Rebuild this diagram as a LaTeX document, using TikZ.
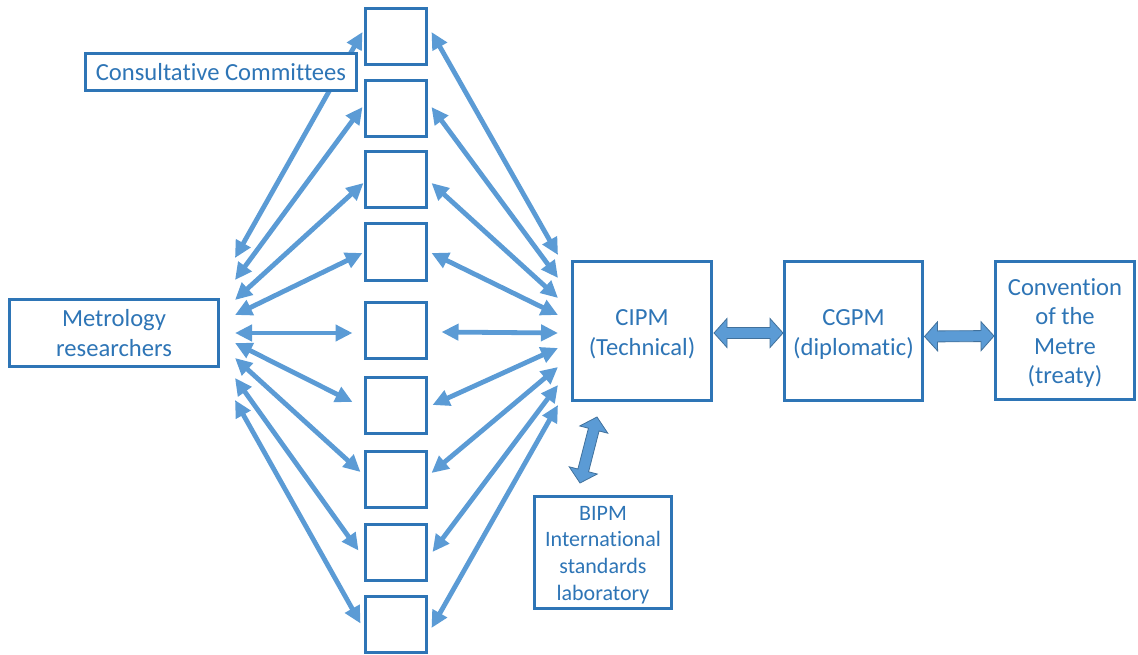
\documentclass[tikz,border=0pt]{standalone}
\usepackage{fontspec}
\setmainfont{Carlito}[Ligatures=NoCommon]
\usetikzlibrary{arrows.meta,calc}
\definecolor{boxblue}{RGB}{46,117,182}
\definecolor{arrblue}{RGB}{91,155,213}
\definecolor{arrline}{RGB}{65,113,156}
\newcommand\hl{13pt}
\newcommand\hw{14.5pt}
\newcommand\sw{5.5pt}
\newcommand\blockarr[2]{%
  \coordinate (ba1) at ($(#1)!\hl!(#2)$);
  \coordinate (ba2) at ($(#2)!\hl!(#1)$);
  \draw[blockarrow] (#1) -- ($(ba1)!\hw!90:(#2)$) -- ($(ba1)!\sw!90:(#2)$)
    -- ($(ba2)!\sw!-90:(#1)$) -- ($(ba2)!\hw!-90:(#1)$) -- (#2)
    -- ($(ba2)!\hw!90:(#1)$) -- ($(ba2)!\sw!90:(#1)$)
    -- ($(ba1)!\sw!-90:(#2)$) -- ($(ba1)!\hw!-90:(#2)$) -- cycle;}
\tikzset{
  box/.style={draw=boxblue, line width=3pt, fill=white, outer sep=0pt, inner sep=0pt,
    text=boxblue, align=center, font=\fontsize{24.6}{29.6}\selectfont},
  cbox/.style={box, minimum width=61pt, minimum height=56pt},
  link/.style={draw=arrblue, line width=4.8pt, {Triangle[length=17pt,width=16pt]}-{Triangle[length=17pt,width=16pt]}},
  blockarrow/.style={fill=arrblue, draw=arrline, line width=0.8pt, line join=miter}
}
\begin{document}
\begin{tikzpicture}[x=1pt,y=-1pt]
\useasboundingbox (0,0) rectangle (1138,655);
% committee boxes
\node[cbox] (b1) at (396,37) {};
\node[cbox] (b2) at (396,109) {};
\node[cbox] (b3) at (396,179.5) {};
\node[cbox] (b4) at (396,252) {};
\node[cbox] (b5) at (396,330) {};
\node[cbox] (b6) at (396,405.5) {};
\node[cbox] (b7) at (396,479) {};
\node[cbox] (b8) at (396,552.5) {};
\node[cbox] (b9) at (396,624.5) {};
% main boxes
\node[box, minimum width=209pt, minimum height=67pt] (res) at (114,333) {Metrology\\researchers};
\node[box, minimum width=139pt, minimum height=139pt] (cipm) at (642,331) {\rule{0pt}{23pt}CIPM\\(Technical)};
\node[box, minimum width=138pt, minimum height=139pt] (cgpm) at (853.5,331) {\rule{0pt}{23pt}CGPM\\(diplomatic)};
\node[box, minimum width=139pt, minimum height=138pt] (conv) at (1065,330.5) {\rule{0pt}{22pt}Convention\\of the\\Metre\\(treaty)};
\node[box, minimum width=137pt, minimum height=112pt, font=\fontsize{22}{26.8}\selectfont] (bipm) at (603,552.5) {\rule{0pt}{19pt}BIPM\\International\\standards\\laboratory};
% fan points near researchers
\foreach \i/\dy in {1/-75,2/-53,3/-33,4/-18,5/0,6/10,7/25,8/45,9/67}{
  \coordinate (L\i) at ($(res.east)+(16.5,\dy)$);
}
% fan points near CIPM
\foreach \i/\dy in {1/-76,2/-53,3/-33,4/-16,5/2,6/17,7/36,8/54,9/74}{
  \coordinate (R\i) at ($(cipm.west)+(-14.5,\dy)$);
}
% left fan
\draw[link] (L1) -- ($(b1.west)+(-3,-5)$);
\draw[link] (L2) -- ($(b2.west)+(-3,-2)$);
\draw[link] (L3) -- ($(b3.west)+(-2,3.5)$);
\draw[link] (L4) -- ($(b4.west)+(-3,1)$);
\draw[link] (L5) -- ($(b5.west)+(-13,3)$);
\draw[link] (L6) -- ($(b6.west)+(-13,-3.5)$);
\draw[link] (L7) -- ($(b7.west)+(-5,-7)$);
\draw[link] (L8) -- ($(b8.west)+(-7,-2)$);
\draw[link] (L9) -- ($(b9.west)+(-5,-1)$);
% right fan
\draw[link] ($(b1.east)+(5,-5)$) -- (R1);
\draw[link] ($(b2.east)+(5,-2)$) -- (R2);
\draw[link] ($(b3.east)+(5,3.5)$) -- (R3);
\draw[link] ($(b4.east)+(5,1)$) -- (R4);
\draw[link] ($(b5.east)+(15,2)$) -- (R5);
\draw[link] ($(b6.east)+(6,-0.5)$) -- (R6);
\draw[link] ($(b7.east)+(5,-6)$) -- (R7);
\draw[link] ($(b8.east)+(6,-0.5)$) -- (R8);
\draw[link] ($(b9.east)+(5,3.5)$) -- (R9);
% block arrows
\coordinate (c1) at ($(cipm.east)+(2.5,2)$);
\coordinate (c2) at ($(cgpm.west)+(-1.5,2)$);
\blockarr{c1}{c2}
\coordinate (d1) at ($(cgpm.east)+(2,5.5)$);
\coordinate (d2) at ($(conv.west)+(-1.5,5.5)$);
\blockarr{d1}{d2}
\coordinate (e1) at ($(cipm.south)+(-45,16.5)$);
\coordinate (e2) at ($(bipm.north)+(-23,-13.5)$);
\blockarr{e1}{e2}
% consultative committees label (drawn over arrows)
\node[box, minimum width=271pt, minimum height=37pt] (cc) at (221,72) {Consultative Committees};
\end{tikzpicture}
\end{document}
